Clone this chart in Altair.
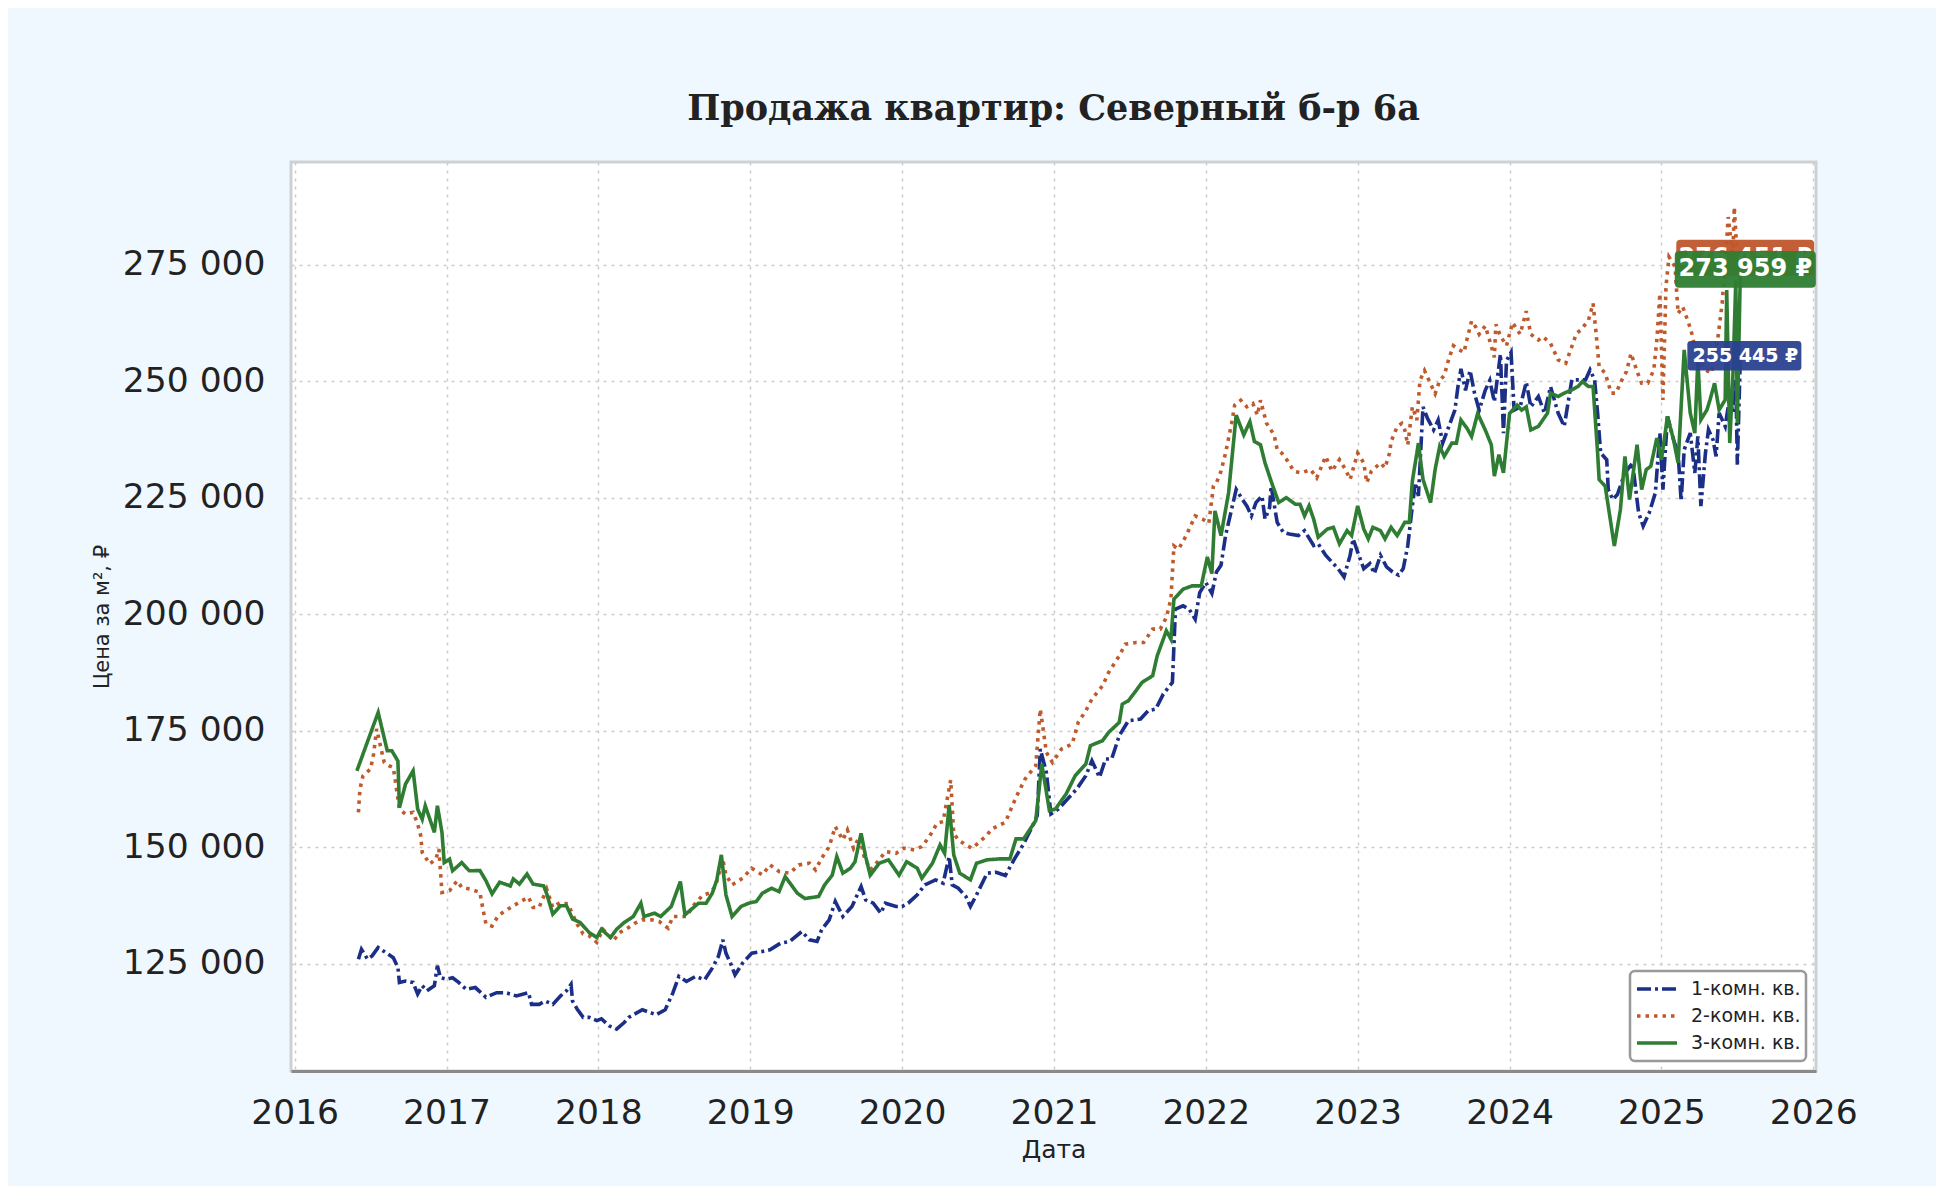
import altair as alt
import pandas as pd

SERIES = ["1-комн. кв.", "2-комн. кв.", "3-комн. кв."]
COLORS = ["#1b2f87", "#bf5a2c", "#2e7d32"]
LABEL_BG = ["#2a4190", "#c0562b", "#2e7d32"]
LABEL_TEXT = ["255 445 ₽", "276 451 ₽", "273 959 ₽"]

X_TICKS = list(range(2016, 2027))
Y_TICKS = [125000, 150000, 175000, 200000, 225000, 250000, 275000]

# 1-комн. кв. (decimal year, price per m2)
room1_t = [2016.42, 2016.44, 2016.48, 2016.51, 2016.55, 2016.60, 2016.65, 2016.68, 2016.69, 2016.73,
           2016.78, 2016.81, 2016.84, 2016.87, 2016.92, 2016.94, 2016.96, 2017.00, 2017.04, 2017.08,
           2017.13, 2017.19, 2017.26, 2017.33, 2017.39, 2017.46, 2017.54, 2017.56, 2017.61, 2017.65,
           2017.70, 2017.75, 2017.79, 2017.82, 2017.83, 2017.86, 2017.90, 2017.94, 2017.99, 2018.02,
           2018.07, 2018.12, 2018.17, 2018.20, 2018.29, 2018.38, 2018.44, 2018.49, 2018.53, 2018.58,
           2018.64, 2018.70, 2018.75, 2018.79, 2018.82, 2018.84, 2018.87, 2018.90, 2018.95, 2019.01,
           2019.08, 2019.13, 2019.20, 2019.26, 2019.34, 2019.39, 2019.44, 2019.47, 2019.52, 2019.56,
           2019.61, 2019.67, 2019.73, 2019.76, 2019.81, 2019.86, 2019.89, 2019.96, 2020.00, 2020.04,
           2020.10, 2020.15, 2020.22, 2020.27, 2020.31, 2020.33, 2020.37, 2020.42, 2020.45, 2020.49,
           2020.56, 2020.62, 2020.68, 2020.74, 2020.80, 2020.86, 2020.89, 2020.91, 2020.95, 2020.98,
           2021.03, 2021.10, 2021.15, 2021.21, 2021.25, 2021.30, 2021.34, 2021.38, 2021.43, 2021.49,
           2021.57, 2021.62, 2021.67, 2021.72, 2021.78, 2021.79, 2021.80, 2021.85, 2021.89, 2021.93,
           2021.96, 2022.00, 2022.04, 2022.07, 2022.10, 2022.13, 2022.17, 2022.20, 2022.24, 2022.27,
           2022.30, 2022.33, 2022.37, 2022.39, 2022.42, 2022.43, 2022.47, 2022.51, 2022.55, 2022.61,
           2022.65, 2022.71, 2022.74, 2022.79, 2022.83, 2022.87, 2022.91, 2022.95, 2022.97, 2023.00,
           2023.04, 2023.08, 2023.11, 2023.15, 2023.19, 2023.23, 2023.27, 2023.30, 2023.33, 2023.36,
           2023.38, 2023.40, 2023.43, 2023.46, 2023.50, 2023.53, 2023.56, 2023.60, 2023.64, 2023.66,
           2023.68, 2023.71, 2023.74, 2023.77, 2023.80, 2023.84, 2023.87, 2023.90, 2023.94, 2023.96,
           2023.98, 2024.01, 2024.03, 2024.07, 2024.11, 2024.14, 2024.19, 2024.23, 2024.27, 2024.32,
           2024.36, 2024.41, 2024.45, 2024.50, 2024.53, 2024.56, 2024.58, 2024.60, 2024.64, 2024.65,
           2024.68, 2024.71, 2024.76, 2024.81, 2024.85, 2024.88, 2024.92, 2024.96, 2024.99, 2025.01,
           2025.04, 2025.08, 2025.11, 2025.13, 2025.15, 2025.19, 2025.22, 2025.24, 2025.26, 2025.29,
           2025.31, 2025.34, 2025.36, 2025.38, 2025.42, 2025.45, 2025.47, 2025.49, 2025.50, 2025.52]
room1_v = [125990, 128100, 126000, 126700, 128500, 127400, 126300, 124200, 121000, 121300,
           121000, 118500, 120300, 119200, 120300, 124600, 122000, 121700, 122000, 121000,
           119500, 119900, 117800, 118800, 118800, 118100, 118800, 116300, 116300, 117000,
           116300, 118100, 119200, 120600, 117000, 115300, 113500, 113500, 112800, 113200,
           111700, 111000, 112400, 113500, 115140, 114070, 115140, 118700, 122300, 121200,
           122300, 121570, 124070, 126570, 130140, 127290, 125140, 122640, 125140, 127290,
           127640, 128000, 129430, 129790, 131930, 130140, 129790, 132290, 134430, 138360,
           135140, 137290, 141570, 138710, 138000, 135860, 138000, 137290, 137290, 138000,
           139790, 141930, 143000, 142290, 148000, 141930, 141210, 139430, 137290, 139790,
           144430, 144640, 143930, 147500, 150710, 154640, 156790, 171070, 166070, 157140,
           158210, 160710, 162500, 165360, 168570, 165000, 168930, 168930, 173930, 177140,
           177500, 179290, 179640, 182860, 185360, 193210, 201070, 201790, 201070, 198930,
           204640, 206790, 204460, 209070, 210480, 216860, 222520, 226770, 224650, 223230,
           221100, 223940, 225350, 220400, 222880, 227480, 219690, 217560, 217210, 216860,
           217920, 214730, 215090, 212610, 211190, 209770, 208000, 212610, 216150, 213320,
           209770, 210840, 208710, 212610, 210130, 209070, 208360, 209770, 214730, 223230,
           228190, 225350, 244480, 242000, 239520, 241640, 236690, 240220, 243770, 248730,
           252620, 248020, 252270, 247310, 243770, 248020, 250140, 245540, 255810, 238810,
           254390, 256160, 243770, 244480, 249790, 244480, 246700, 243130, 248830, 243130,
           240280, 250260, 250260, 250260, 252400, 250260, 243130, 234570, 233140, 226730,
           224590, 225660, 230300, 232430, 221740, 218890, 221740, 226010, 238850, 226730,
           242420, 237420, 234570, 224240, 235280, 238850, 230300, 238140, 223170, 234570,
           239570, 237420, 233860, 243130, 240280, 246700, 243130, 250260, 232080, 255445]

# 2-комн. кв.
room2_t = [2016.42, 2016.43, 2016.45, 2016.50, 2016.52, 2016.54, 2016.57, 2016.59, 2016.62, 2016.65,
           2016.69, 2016.73, 2016.78, 2016.81, 2016.83, 2016.84, 2016.89, 2016.93, 2016.95, 2016.96,
           2016.97, 2017.02, 2017.07, 2017.10, 2017.16, 2017.22, 2017.24, 2017.26, 2017.30, 2017.34,
           2017.39, 2017.44, 2017.48, 2017.54, 2017.57, 2017.61, 2017.66, 2017.70, 2017.75, 2017.80,
           2017.86, 2017.90, 2017.94, 2017.99, 2018.03, 2018.10, 2018.14, 2018.20, 2018.24, 2018.29,
           2018.35, 2018.40, 2018.46, 2018.49, 2018.58, 2018.63, 2018.69, 2018.73, 2018.77, 2018.82,
           2018.84, 2018.88, 2018.95, 2019.01, 2019.08, 2019.13, 2019.19, 2019.26, 2019.32, 2019.39,
           2019.43, 2019.47, 2019.52, 2019.56, 2019.61, 2019.64, 2019.68, 2019.72, 2019.75, 2019.79,
           2019.85, 2019.89, 2019.96, 2020.01, 2020.08, 2020.13, 2020.18, 2020.23, 2020.27, 2020.32,
           2020.34, 2020.37, 2020.42, 2020.46, 2020.50, 2020.56, 2020.59, 2020.68, 2020.75, 2020.81,
           2020.88, 2020.91, 2020.95, 2020.99, 2021.05, 2021.12, 2021.16, 2021.21, 2021.25, 2021.32,
           2021.36, 2021.43, 2021.47, 2021.54, 2021.59, 2021.65, 2021.70, 2021.74, 2021.77, 2021.79,
           2021.82, 2021.87, 2021.93, 2021.98, 2022.02, 2022.05, 2022.07, 2022.10, 2022.13, 2022.17,
           2022.19, 2022.23, 2022.27, 2022.31, 2022.34, 2022.36, 2022.40, 2022.45, 2022.47, 2022.50,
           2022.54, 2022.58, 2022.63, 2022.69, 2022.73, 2022.79, 2022.83, 2022.88, 2022.92, 2022.95,
           2023.00, 2023.04, 2023.06, 2023.09, 2023.15, 2023.18, 2023.21, 2023.22, 2023.26, 2023.29,
           2023.31, 2023.33, 2023.36, 2023.39, 2023.41, 2023.44, 2023.48, 2023.51, 2023.54, 2023.57,
           2023.60, 2023.63, 2023.66, 2023.70, 2023.72, 2023.75, 2023.78, 2023.80, 2023.84, 2023.87,
           2023.90, 2023.91, 2023.94, 2023.98, 2024.02, 2024.07, 2024.11, 2024.14, 2024.19, 2024.22,
           2024.27, 2024.32, 2024.37, 2024.41, 2024.44, 2024.47, 2024.52, 2024.55, 2024.57, 2024.59,
           2024.63, 2024.67, 2024.70, 2024.74, 2024.77, 2024.80, 2024.84, 2024.87, 2024.91, 2024.95,
           2024.97, 2024.99, 2025.01, 2025.03, 2025.05, 2025.09, 2025.11, 2025.14, 2025.18, 2025.20,
           2025.24, 2025.29, 2025.33, 2025.37, 2025.40, 2025.42, 2025.44, 2025.47, 2025.48, 2025.50,
           2025.52]
room2_v = [157500, 162500, 165300, 166800, 170000, 175400, 171000, 168200, 167500, 167100,
           158200, 157100, 157500, 155000, 152500, 148900, 146400, 147500, 149600, 145000,
           140300, 140700, 142800, 141400, 141000, 140300, 136700, 133500, 133100, 135300,
           136400, 137450, 138200, 139300, 137100, 137100, 141000, 137100, 138200, 137800,
           133500, 131400, 131000, 129600, 132400, 130000, 131700, 132800, 133700, 134430,
           134430, 134070, 132640, 135140, 135140, 137640, 139800, 140140, 141570, 147300,
           144070, 141930, 143360, 145500, 144070, 146210, 144790, 144430, 146210, 146570,
           145140, 147640, 150140, 154430, 151570, 153700, 149790, 152290, 148000, 145140,
           147300, 149070, 148700, 149790, 149430, 150140, 152290, 155140, 155500, 164430,
           153000, 151570, 150500, 149790, 150860, 152640, 153930, 155360, 160710, 164640,
           167500, 179640, 170360, 168210, 171070, 172140, 176790, 179290, 181790, 184640,
           187500, 191070, 193570, 193930, 193930, 196790, 196790, 199290, 203210, 214640,
           213930, 216790, 221070, 220360, 219500, 227500, 228190, 230670, 234560, 240930,
           244830, 245890, 244480, 245180, 242710, 245890, 240930, 238460, 235270, 234560,
           232790, 230670, 230310, 231020, 229250, 233850, 230670, 233150, 231020, 228900,
           234560, 232440, 228190, 230670, 232440, 231370, 234560, 237040, 240220, 240930,
           239520, 236330, 244480, 241640, 250140, 252270, 249430, 247310, 250140, 251200,
           254740, 257580, 256870, 256160, 258990, 262890, 261470, 260060, 261830, 258640,
           255100, 262180, 259700, 257580, 262540, 260060, 265010, 260060, 258810, 259530,
           258100, 254540, 253820, 257390, 260240, 260950, 263090, 266660, 260240, 253110,
           251680, 247410, 247410, 250260, 252040, 255960, 252040, 249550, 249550, 252400,
           258810, 268790, 245980, 270220, 276640, 274500, 264520, 265950, 262380, 260240,
           254540, 252400, 251680, 258810, 266660, 275210, 285190, 276640, 287330, 275930,
           276451]

# 3-комн. кв.
room3_t = [2016.41, 2016.51, 2016.55, 2016.61, 2016.64, 2016.68, 2016.69, 2016.73, 2016.78, 2016.81,
           2016.84, 2016.86, 2016.92, 2016.94, 2016.97, 2016.985, 2017.02, 2017.04, 2017.10, 2017.15,
           2017.22, 2017.26, 2017.30, 2017.35, 2017.42, 2017.44, 2017.48, 2017.53, 2017.57, 2017.64,
           2017.66, 2017.70, 2017.75, 2017.79, 2017.83, 2017.88, 2017.94, 2017.99, 2018.02, 2018.08,
           2018.12, 2018.17, 2018.23, 2018.28, 2018.30, 2018.37, 2018.41, 2018.48, 2018.54, 2018.57,
           2018.62, 2018.66, 2018.71, 2018.75, 2018.78, 2018.81, 2018.84, 2018.88, 2018.94, 2018.99,
           2019.04, 2019.08, 2019.14, 2019.19, 2019.23, 2019.27, 2019.31, 2019.36, 2019.45, 2019.49,
           2019.54, 2019.57, 2019.61, 2019.66, 2019.69, 2019.73, 2019.76, 2019.79, 2019.85, 2019.91,
           2019.98, 2020.03, 2020.10, 2020.13, 2020.20, 2020.25, 2020.28, 2020.31, 2020.34, 2020.38,
           2020.45, 2020.49, 2020.56, 2020.64, 2020.71, 2020.75, 2020.80, 2020.88, 2020.92, 2020.97,
           2021.01, 2021.08, 2021.14, 2021.21, 2021.24, 2021.32, 2021.36, 2021.43, 2021.45, 2021.49,
           2021.54, 2021.58, 2021.65, 2021.68, 2021.74, 2021.77, 2021.79, 2021.85, 2021.91, 2021.97,
           2022.01, 2022.04, 2022.06, 2022.10, 2022.15, 2022.20, 2022.25, 2022.29, 2022.32, 2022.36,
           2022.39, 2022.43, 2022.48, 2022.53, 2022.59, 2022.62, 2022.65, 2022.68, 2022.71, 2022.74,
           2022.80, 2022.84, 2022.88, 2022.93, 2022.96, 2023.00, 2023.04, 2023.07, 2023.10, 2023.15,
           2023.18, 2023.22, 2023.26, 2023.31, 2023.34, 2023.36, 2023.40, 2023.43, 2023.48, 2023.51,
           2023.54, 2023.57, 2023.62, 2023.65, 2023.68, 2023.72, 2023.75, 2023.79, 2023.84, 2023.88,
           2023.90, 2023.93, 2023.96, 2024.00, 2024.05, 2024.08, 2024.11, 2024.14, 2024.19, 2024.25,
           2024.27, 2024.32, 2024.36, 2024.41, 2024.45, 2024.48, 2024.52, 2024.55, 2024.58, 2024.59,
           2024.63, 2024.66, 2024.69, 2024.73, 2024.76, 2024.79, 2024.84, 2024.87, 2024.90, 2024.93,
           2024.97, 2025.00, 2025.04, 2025.08, 2025.11, 2025.15, 2025.19, 2025.22, 2025.24, 2025.26,
           2025.30, 2025.32, 2025.35, 2025.38, 2025.42, 2025.43, 2025.45, 2025.47, 2025.49, 2025.50,
           2025.52]
room3_v = [166400, 175360, 178900, 170700, 170700, 168500, 158500, 163550, 166400, 158200,
           156000, 158900, 153200, 158900, 153200, 146700, 147450, 144950, 146700, 144950,
           145000, 142800, 140000, 142500, 141700, 143200, 142100, 144250, 142100, 141700,
           140000, 135650, 137450, 137450, 134600, 133850, 131700, 130640, 132400, 130640,
           132400, 133850, 135140, 138000, 135140, 135860, 135140, 137300, 142640, 135500,
           136900, 138000, 138000, 140140, 143000, 148360, 139800, 135140, 137300, 138000,
           138360, 140140, 141200, 140500, 143700, 141930, 140140, 139000, 139430, 141930,
           144000, 148000, 144430, 145500, 146900, 153000, 148000, 144000, 146570, 147300,
           144000, 146900, 145500, 143360, 146570, 150500, 148700, 159070, 148360, 144430,
           143000, 146570, 147300, 147500, 147500, 151790, 151790, 155710, 167860, 157860,
           158210, 161430, 165360, 167860, 171790, 172860, 174640, 176790, 180710, 181430,
           183570, 185360, 186790, 191070, 196430, 194640, 203210, 205360, 206070, 206070,
           212250, 208710, 222170, 216860, 226060, 242710, 238460, 241290, 237040, 236330,
           232440, 228540, 223940, 225000, 223580, 223580, 221100, 223230, 220400, 216500,
           218270, 218630, 215090, 217920, 216860, 223230, 218270, 216150, 218630, 217920,
           216150, 218630, 216860, 219690, 219690, 228540, 236690, 228900, 223940, 231020,
           235980, 233850, 236690, 236690, 241640, 239870, 238100, 243060, 239520, 236330,
           229600, 234210, 230310, 243060, 244830, 243770, 244480, 239520, 240280, 243130,
           247410, 246700, 247410, 248120, 248830, 249900, 248830, 248830, 234570, 228870,
           227440, 221030, 214610, 222450, 233860, 224590, 236360, 226730, 231010, 231720,
           237780, 233140, 242420, 237420, 232430, 256680, 243130, 238850, 254540, 241700,
           243840, 245980, 249550, 243840, 245980, 269510, 236710, 250260, 271650, 240990,
           273959]

frames = []
for name, ts, vs in [(SERIES[0], room1_t, room1_v), (SERIES[1], room2_t, room2_v), (SERIES[2], room3_t, room3_v)]:
    frames.append(pd.DataFrame({"year": ts, "price": vs, "series": name}))
df = pd.concat(frames, ignore_index=True)

labels_df = pd.DataFrame({
    "year": [room1_t[-1], room2_t[-1], room3_t[-1]],
    "price": [room1_v[-1], room2_v[-1], room3_v[-1]],
    "series": SERIES,
    "label": LABEL_TEXT,
})

FONT = "DejaVu Sans"

x_enc = alt.X(
    "year:Q",
    scale=alt.Scale(domain=[2015.976, 2026.018], nice=False, zero=False),
    axis=alt.Axis(values=X_TICKS, format="d", title="Дата"),
)
y_enc = alt.Y(
    "price:Q",
    scale=alt.Scale(domain=[102000, 297000], nice=False, zero=False),
    axis=alt.Axis(values=Y_TICKS, labelExpr="format(datum.value/1000,'d') + ' 000'",
                  title="Цена за м², ₽"),
)

lines = alt.Chart(df).mark_line(strokeWidth=3.6).encode(
    x=x_enc,
    y=y_enc,
    color=alt.Color("series:N", scale=alt.Scale(domain=SERIES, range=COLORS), title=None),
    strokeDash=alt.StrokeDash("series:N",
                              scale=alt.Scale(domain=SERIES, range=[[14, 4, 3, 4], [3.5, 5], [1, 0]]),
                              title=None),
)

BOX_PATH = ("M-0.87,-0.26 L1.01,-0.26 Q1.07,-0.26 1.07,-0.2 L1.07,0.2 Q1.07,0.26 1.01,0.26 "
            "L-0.87,0.26 Q-0.93,0.26 -0.93,0.2 L-0.93,-0.2 Q-0.93,-0.26 -0.87,-0.26 Z")

label_layers = []
for idx, box_size, font_size in [(1, 19000, 24), (0, 13000, 19), (2, 19900, 24)]:
    sub = alt.Chart(labels_df).transform_filter(alt.datum.series == SERIES[idx])
    box = sub.mark_point(shape=BOX_PATH, size=box_size, filled=True, fill=LABEL_BG[idx],
                         opacity=0.95, strokeWidth=0).encode(x="year:Q", y="price:Q")
    txt = sub.mark_text(font=FONT, fontWeight="bold", fontSize=font_size, color="white",
                        dx=5, align="center", baseline="middle").encode(
        x="year:Q", y="price:Q", text="label:N")
    label_layers += [box, txt]

chart = alt.layer(lines, *label_layers).properties(
    width=1525,
    height=909,
    padding={"left": 283, "top": 154, "right": 120, "bottom": 115},
    autosize=alt.AutoSizeParams(type="none"),
    title=alt.TitleParams(
        "Продажа квартир: Северный б-р 6а",
        font="DejaVu Serif", fontSize=35, fontWeight="bold", color="#222222",
        anchor="middle", frame="group", baseline="alphabetic", offset=7,
    ),
    background="#f0f8ff",
).configure_view(
    stroke="#cdd1d4", strokeWidth=3, fill="white"
).configure_axis(
    labelFont=FONT, titleFont=FONT, labelColor="#222222", titleColor="#222222",
    titleFontWeight="normal", ticks=False, gridColor="#cccccc", gridDash=[3, 5], gridWidth=1.5,
).configure_axisX(
    labelFontSize=34.5, labelPadding=25, titleFontSize=25, titlePadding=8,
    domainColor="#8a8a8a", domainWidth=3,
).configure_axisY(
    labelFontSize=34.5, labelPadding=26, titleFontSize=21, titlePadding=10, domain=False,
).configure_legend(
    orient="bottom-right", offset=10, fillColor="white", strokeColor="#999999", strokeWidth=2.5,
    cornerRadius=5, padding=5, labelFont=FONT, labelFontSize=19, labelColor="#222222",
    symbolType="stroke", symbolStrokeWidth=3.6, symbolSize=1600, clipHeight=26, rowPadding=1,
    labelOffset=12,
)

chart.save("out.html", embed_options={"renderer": "svg", "actions": False})
